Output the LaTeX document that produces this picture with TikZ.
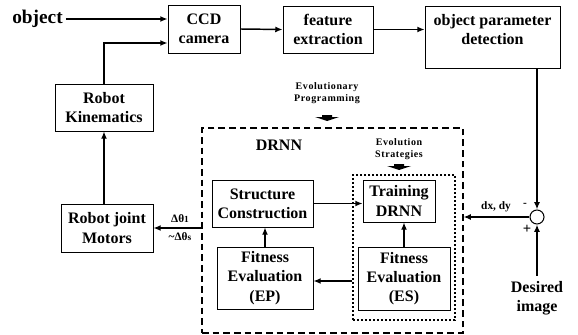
\documentclass[tikz,border=0pt]{standalone}
\usepackage{fontspec}
\setmainfont{Liberation Serif}
\newfontfamily\spacedfont{Liberation Serif}[LetterSpace=6]
\usetikzlibrary{arrows.meta,calc}
\begin{document}
\begin{tikzpicture}[x=0.75pt,y=-0.75pt,
  every node/.style={font=\fontsize{12}{14.5}\selectfont\bfseries},
  blk/.style={draw,line width=0.6pt,align=center,inner sep=0pt},
  small/.style={font=\spacedfont\fontsize{7.5}{9}\selectfont\bfseries,align=center,inner sep=0pt},
  lbl/.style={font=\fontsize{8.5}{10}\selectfont\bfseries,inner sep=0pt},
  arr/.style={line width=1.1pt,-{Latex[length=5.5pt,width=4.5pt]}},
  outerbox/.style={draw,line width=0.8pt,dash pattern=on 5pt off 3pt,inner sep=0pt},
  innerbox/.style={draw,line width=0.8pt,dash pattern=on 1.6pt off 1.4pt,inner sep=0pt},
  sumnode/.style={draw,circle,line width=0.8pt,minimum size=10.5pt,inner sep=0pt}]
\useasboundingbox (0,0) rectangle (578,335);

% top row
\node[font=\fontsize{14.5}{16}\selectfont\bfseries,anchor=west,inner sep=0pt] (obj) at (12,19) {object};
\node[blk,minimum width=54pt,minimum height=36pt] (ccd) at (204,29) {CCD\\camera};
\node[blk,minimum width=67.5pt,minimum height=35.25pt] (feat) at (328,29.5) {feature\\extraction};
\node[blk,minimum width=101.25pt,minimum height=46.5pt] (opd) at (492.5,37) {};
\node[align=center,inner sep=0pt] (opdtext) at (492.5,29.5) {object parameter\\detection};

% robot side
\node[blk,minimum width=73.5pt,minimum height=35.25pt] (rk) at (104,107.5) {Robot\\Kinematics};
\node[blk,minimum width=69pt,minimum height=36pt] (rjm) at (107,228) {Robot joint\\Motors};

% DRNN block
\node[outerbox,minimum width=195.75pt,minimum height=153.75pt] (outer) at (332.5,230.5) {};
\node[inner sep=0pt] (drnnlbl) at (279,145) {DRNN};
\node[innerbox,minimum width=76.5pt,minimum height=108.75pt] (inner) at (404,247.5) {};
\node[blk,minimum width=75.75pt,minimum height=35.25pt] (sc) at (262.5,203.5) {Structure\\Construction};
\node[blk,minimum width=72pt,minimum height=46.5pt] (fep) at (265,278) {Fitness\\Evaluation\\(EP)};
\node[blk,minimum width=54pt,minimum height=31.5pt] (tr) at (399,201) {Training\\DRNN};
\node[blk,minimum width=69pt,minimum height=47.25pt] (fes) at (404,278.5) {Fitness\\Evaluation\\(ES)};

% method labels with their bold markers
\node[small] (ep) at (327,93) {Evolutionary\\Programming};
\node[small] (es) at (399,149) {Evolution\\Strategies};
\coordinate (epmark) at (327,118);
\coordinate (esmark) at (399,167);
\foreach \m in {epmark,esmark}{
  \fill ($(\m)+(-5,-3)$) -- ($(\m)+(5,-3)$) -- ($(\m)+(5,-1)$) -- ($(\m)+(12,-1)$)
    -- ($(\m)+(0,3)$) -- ($(\m)+(-12,-1)$) -- ($(\m)+(-5,-1)$) -- cycle;
}

% summing junction
\node[sumnode] (sum) at (537,217) {};
\node[lbl] (minus) at (525,205) {-};
\node[lbl,font=\fontsize{11}{12}\selectfont\bfseries] (plus) at (527,229) {+};
\node[align=center,inner sep=0pt] (des) at (537,298) {Desired\\image};

% connectors
\draw[arr] (obj.east) ++(3,0) -- (obj -| ccd.west);
\draw[arr] (rk.north) |- ($(ccd.west)+(0,14)$);
\draw[arr] (ccd.east) -- (feat.west);
\draw[arr] (feat.east) -- (feat.east -| opd.west);
\draw[arr] (sum |- opd.south) -- (sum.north);
\draw[arr] ($(des.north)+(0,-5)$) -- (sum.south);
\draw[arr] (sum.west) -- (sum.west -| outer.east);
\draw[arr] (rjm.east -| outer.west) -- (rjm.east);
\draw[arr] (rk.south |- rjm.north) -- (rk.south);
\draw[arr] (sc.east) -- (sc.east -| tr.west);
\draw[arr] (fes.north) -- (fes.north |- tr.south);
\draw[arr] ($(fep.east -| inner.west)+(0,3)$) -- ($(fep.east)+(0,3)$);
\draw[arr] (fep.north) -- (fep.north |- sc.south);

% labels on connectors
\node[lbl] (dxdy) at (496,207) {dx, dy};
\node[lbl] (dth1) at (180,219) {Δθ{\fontsize{7}{8}\selectfont 1}};
\node[lbl] (dths) at (180,237) {\textasciitilde Δθ{\fontsize{7}{8}\selectfont s}};
\end{tikzpicture}
\end{document}
